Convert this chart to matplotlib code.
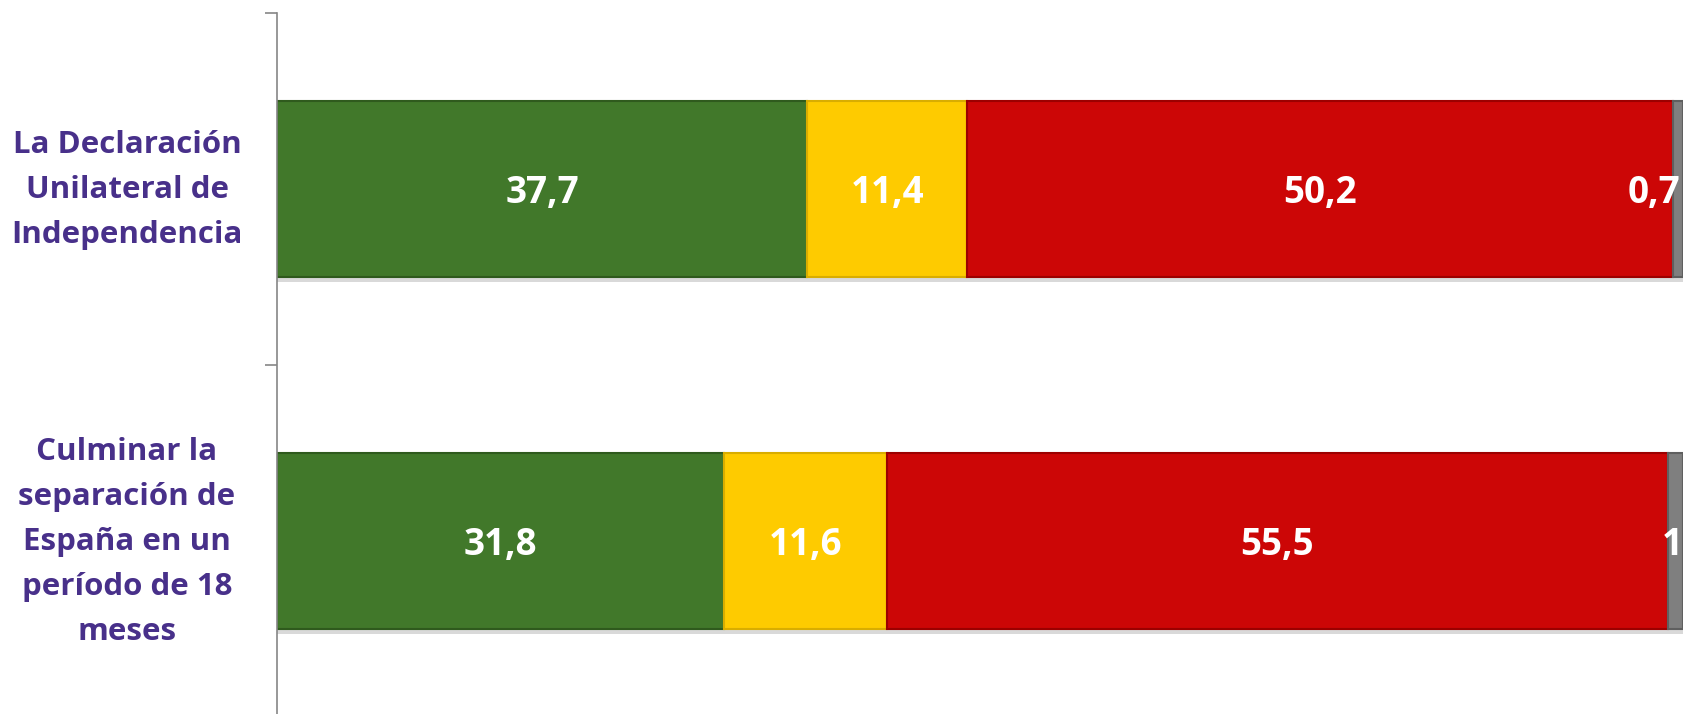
import matplotlib
matplotlib.use('Agg')
import matplotlib.pyplot as plt
import numpy as np

# Datos
categorias = ['La Declaración\nUnilateral de\nIndependencia',
              'Culminar la\nseparación de\nEspaña en un\nperíodo de 18\nmeses']
favor = [37.7, 31.8]
ns_nc = [11.4, 11.6]
contra = [50.2, 55.5]
otros = [0.7, 1.1]

series = [favor, ns_nc, contra, otros]
colores = ['#41782a', '#fecb00', '#cc0606', '#7f7f7f']
bordes = ['#2f5a1d', '#d9ad00', '#9c0000', '#5f5f5f']

PURPLE = '#48308a'
FONT = 'Open Sans'
VAL_SIZE = 26.5

fig = plt.figure(figsize=(16.84, 7.14), dpi=100)
ax = fig.add_axes([277 / 1684, -3 / 714, 1 - 277 / 1684 - 0.0005, 704 / 714])

y = np.arange(len(categorias))
izq = np.zeros(len(categorias))
for i, (vals, col, bc) in enumerate(zip(series, colores, bordes)):
    vals = np.array(vals)
    # sombra
    ax.barh(y + 0.014, vals, left=izq, height=0.5, color='#d9d9d9', zorder=1)
    bars = ax.barh(y, vals, left=izq, height=0.5, color=col,
                   edgecolor=bc, linewidth=1.5, zorder=2)
    for j, (b, v) in enumerate(zip(bars, vals)):
        txt = f'{v:.1f}'.replace('.', ',')
        if i == len(series) - 1:
            # etiquetas del final, recortadas como en el original
            offs = [-3, -21][j]
            ha = ['right', 'left'][j]
            ax.annotate(txt, (izq[j] + v, y[j]), xytext=(offs * 0.72, -10),
                        textcoords='offset points', ha=ha, va='baseline',
                        color='white', fontsize=VAL_SIZE, fontweight='bold',
                        family=FONT, zorder=3, annotation_clip=False)
        else:
            ax.annotate(txt, (izq[j] + v / 2, y[j]), xytext=(0, -10),
                        textcoords='offset points', ha='center', va='baseline',
                        color='white', fontsize=VAL_SIZE, fontweight='bold',
                        family=FONT, zorder=3)
    izq = izq + vals

ax.set_xlim(0, 100)
ax.set_ylim(1.5, -0.5)

for s in ['top', 'right', 'bottom']:
    ax.spines[s].set_visible(False)
ax.spines['left'].set_color('#868686')
ax.spines['left'].set_linewidth(1.2)

ax.set_xticks([])
ax.set_yticks([-0.5, 0.5, 1.5])
ax.set_yticklabels([])
ax.tick_params(axis='y', which='major', length=8.6, width=1.2, color='#868686')

# etiquetas de las categorías
for yy, cat in zip(y, categorias):
    ax.annotate(cat, (0, yy), xycoords=('axes fraction', 'data'),
                xytext=(-108, -1), textcoords='offset points',
                ha='center', va='center', fontsize=22.5, fontweight='bold',
                family=FONT, color=PURPLE, linespacing=1.65,
                annotation_clip=False)

fig.savefig('out.png', dpi=100)
